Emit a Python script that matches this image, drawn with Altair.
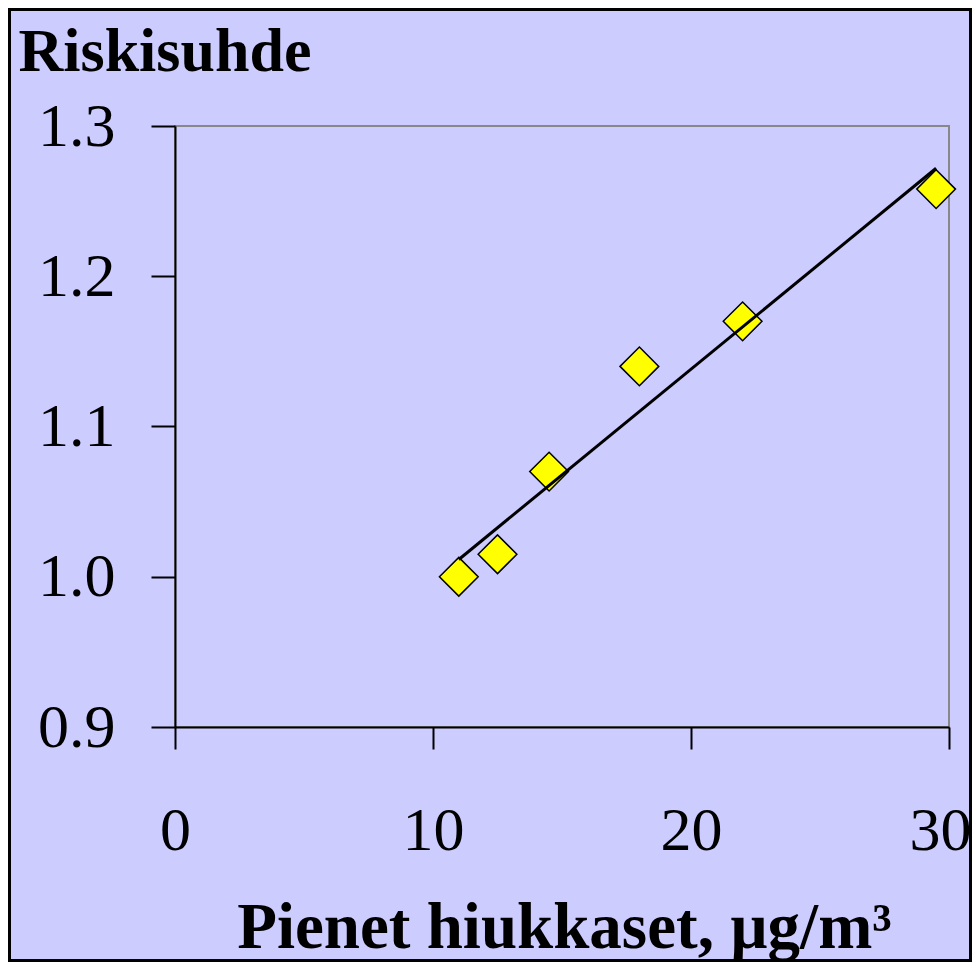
import altair as alt
import pandas as pd

pm = [11, 12.5, 14.5, 18, 22, 29.5]
rr = [1.0, 1.015, 1.07, 1.14, 1.17, 1.258]
x_ticks = [0, 10, 20, 30]
y_ticks = [0.9, 1.0, 1.1, 1.2, 1.3]

df = pd.DataFrame({"pm": pm, "rr": rr})

FONT = "Liberation Serif"
W, H = 774, 601
PAD = {"left": 167, "top": 118, "right": 23, "bottom": 235}

xenc = alt.X("pm:Q", scale=alt.Scale(domain=[0, 30], nice=False),
             axis=alt.Axis(values=x_ticks, title="Pienet hiukkaset, µg/m³",
                           titleX=W / 2 + 2, titleY=220, titleAlign="center",
                           titleBaseline="alphabetic", titleFontSize=65,
                           labelPadding=51, tickSize=22,
                           labelOffset={"condition": {"test": "datum.value == 30", "value": -9},
                                        "value": 0}))
yenc = alt.Y("rr:Q", scale=alt.Scale(domain=[0.9, 1.3], nice=False, zero=False),
             axis=alt.Axis(values=y_ticks, format=".1f", title="Riskisuhde",
                           titleAngle=0, titleX=-157, titleY=-56, titleAlign="left",
                           titleBaseline="alphabetic", labelPadding=36, tickSize=24))

points = alt.Chart(df).mark_point(
    shape="diamond", filled=True, fill="#FFFF00", stroke="black",
    strokeWidth=1.5, size=1500, opacity=1
).encode(x=xenc, y=yenc)

line = alt.Chart(df).transform_regression("pm", "rr").mark_line(
    color="black", strokeWidth=3
).encode(x=xenc, y=yenc)

border = alt.Chart(pd.DataFrame({"k": [0]})).mark_rect(
    fillOpacity=0, stroke="black", strokeWidth=3
).encode(
    x=alt.value(-PAD["left"] + 1.5), x2=alt.value(W + PAD["right"] - 1.5),
    y=alt.value(-PAD["top"] + 1.5), y2=alt.value(H + PAD["bottom"] - 1.5)
)

chart = alt.layer(points, line, border).properties(
    width=W, height=H,
    autosize=alt.AutoSizeParams(type="none"),
    padding=PAD,
    background="#CCCCFF",
).configure_view(
    stroke="#888888", strokeWidth=2, fill="#CCCCFF"
).configure_axis(
    grid=False,
    domainColor="black", domainWidth=2,
    tickColor="black", tickWidth=2,
    labelFont=FONT, labelFontSize=62, labelColor="black",
    titleFont=FONT, titleFontSize=62, titleFontWeight="bold", titleColor="black",
    labelOverlap=False, labelFlush=False, zindex=1,
)

chart.save("out.html", embed_options={"renderer": "svg", "actions": False})
